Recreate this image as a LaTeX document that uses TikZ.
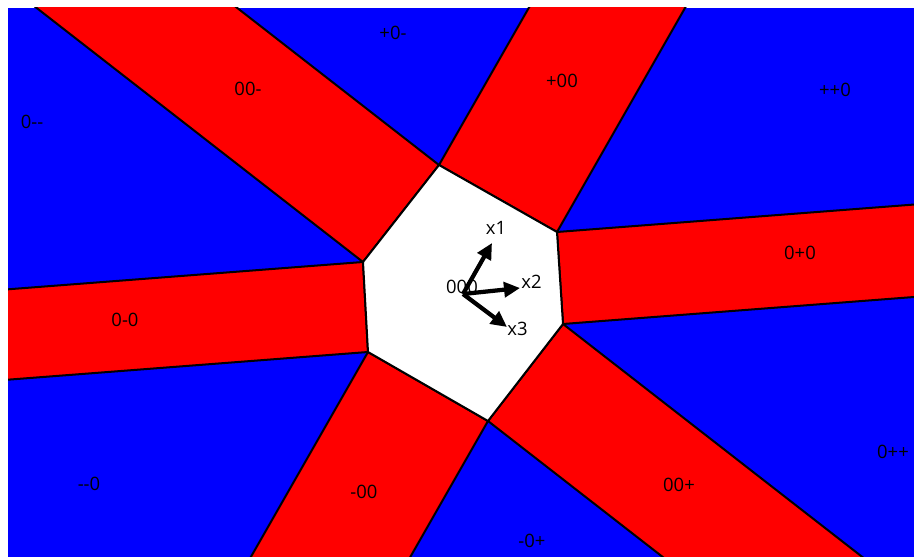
\documentclass[tikz,border=0pt]{standalone}
\usepackage{fontspec}
\setmainfont{Open Sans}
\usepackage{xcolor}
\usepackage{tikz}
\usetikzlibrary{arrows.meta,calc}
\definecolor{band}{HTML}{FF0000}
\definecolor{cell}{HTML}{0000FF}
\tikzset{
  stripe/.style={fill=band,draw=black,line width=0.04cm,line join=miter},
  hexcell/.style={fill=white,draw=black,line width=0.04cm,line join=miter},
  sign/.style  ={inner sep=0pt,font=\fontsize{10.5}{12}\selectfont},
  vec/.style   ={-{Triangle[length=0.32cm,width=0.3cm]},line width=0.085cm,draw=black}
}
\begin{document}
\begin{tikzpicture}[x=0.02cm,y=-0.02cm]
  \useasboundingbox (0,0) rectangle (914,557);
  \clip (8,8) rectangle (914,557);
  \fill[cell] (8,8) rectangle (914,557);
  % hexagon corners
  \coordinate (T)  at (439,165);
  \coordinate (UR) at (557,232);
  \coordinate (LR) at (563,324);
  \coordinate (B)  at (488,421);
  \coordinate (LL) at (368,352);
  \coordinate (UL) at (363,262);
  % one strip per edge, running outwards
  \draw[stripe] (T) -- (UR) -- ($(UR)+10*(68,-119)$) -- ($(T)+10*(68,-119)$) -- cycle;
  \draw[stripe] (UR) -- (LR) -- ($(LR)+10*(91,-7)$) -- ($(UR)+10*(91,-7)$) -- cycle;
  \draw[stripe] (LR) -- (B) -- ($(B)+10*(97,75.5)$) -- ($(LR)+10*(97,75.5)$) -- cycle;
  \draw[stripe] (B) -- (LL) -- ($(LL)+10*(-68,119)$) -- ($(B)+10*(-68,119)$) -- cycle;
  \draw[stripe] (LL) -- (UL) -- ($(UL)+10*(-91,7)$) -- ($(LL)+10*(-91,7)$) -- cycle;
  \draw[stripe] (UL) -- (T) -- ($(T)+10*(-97,-75.5)$) -- ($(UL)+10*(-97,-75.5)$) -- cycle;
  \draw[hexcell] (T) -- (UR) -- (LR) -- (B) -- (LL) -- (UL) -- cycle;
  % sign labels
  \node[sign] (zzz) at (462,287) {000};
  \node[sign] (pzz) at (562,81)  {+00};
  \node[sign] (zpz) at (800,253) {0+0};
  \node[sign] (zzp) at (679,485) {00+};
  \node[sign] (mzz) at (364,492) {-00};
  \node[sign] (zmz) at (125,320) {0-0};
  \node[sign] (zzm) at (248,89)  {00-};
  \node[sign] (pzm) at (393,33)  {+0-};
  \node[sign] (ppz) at (835,90)  {++0};
  \node[sign] (zpp) at (893,452) {0++};
  \node[sign] (mzp) at (532,541) {-0+};
  \node[sign] (mmz) at (89,484)  {{-}{-}0};
  \node[sign] (zmm) at (32,122)  {0{-}{-}};
  % the three vectors
  \coordinate (o)  at (463,294);
  \coordinate (t1) at (492,243);
  \coordinate (t2) at (520,288);
  \coordinate (t3) at (507,327);
  \draw[vec] (o) -- (t1);
  \draw[vec] (o) -- (t2);
  \draw[vec] (o) -- (t3);
  \node[sign] (x1) at (496,228)   {x1};
  \node[sign] (x2) at (531.5,282) {x2};
  \node[sign] (x3) at (517.5,329) {x3};
\end{tikzpicture}
\end{document}
